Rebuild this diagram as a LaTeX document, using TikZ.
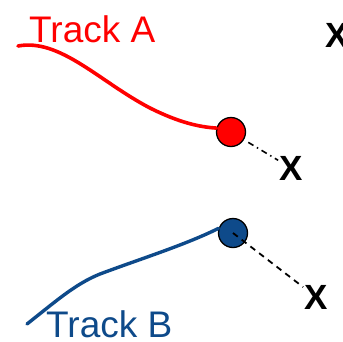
\documentclass[tikz,border=0pt]{standalone}
\usepackage{fontspec}
\setmainfont{Liberation Sans}
\usepackage{tikz}
\usetikzlibrary{arrows.meta,calc,positioning}
\definecolor{trackred}{RGB}{255,0,0}
\definecolor{trackblue}{RGB}{14,74,138}

\begin{document}
\begin{tikzpicture}[x=1pt,y=-1pt,line cap=round,
 hit/.style={circle,draw=black,line width=1.3pt,minimum size=29pt,inner sep=0pt},
 cross/.style={font=\fontsize{35}{36}\selectfont\bfseries,inner sep=1pt},
 label/.style={font=\fontsize{37}{40}\selectfont,anchor=base west,inner sep=0pt}]
\useasboundingbox (0,0) rectangle (343,341);
% hits and extrapolated points
\node[hit,fill=trackred] (ha) at (231,132) {};
\node[hit,fill=trackblue] (hb) at (233,233) {};
\node[cross] (xt) at (337,35) {X};
\node[cross] (xa) at (291,168) {X};
\node[cross] (xb) at (316,297) {X};
% tracks
\draw[trackred,line width=3.6pt] (18,46)
 .. controls (60,38) and (100,82) .. (150,108)
 .. controls (180,123) and (200,127) .. (ha.165);
\draw[trackblue,line width=3.4pt] (27,324)
 .. controls (55,302) and (75,284) .. (100,274)
 .. controls (140,259) and (185,245) .. (hb.162);
% extrapolations
\draw[line width=1.6pt,line cap=butt,dash pattern=on 6pt off 4pt on 1.5pt off 4pt,shorten <=5pt]
 (ha)--(xa);
\draw[line width=1.8pt,line cap=butt,dash pattern=on 6pt off 5pt] (hb.center)--(xb);
\node[label,trackred] (ta) at (29,42) {Track A};
\node[label,trackblue] (tb) at (46,337) {Track B};
\end{tikzpicture}
\end{document}
